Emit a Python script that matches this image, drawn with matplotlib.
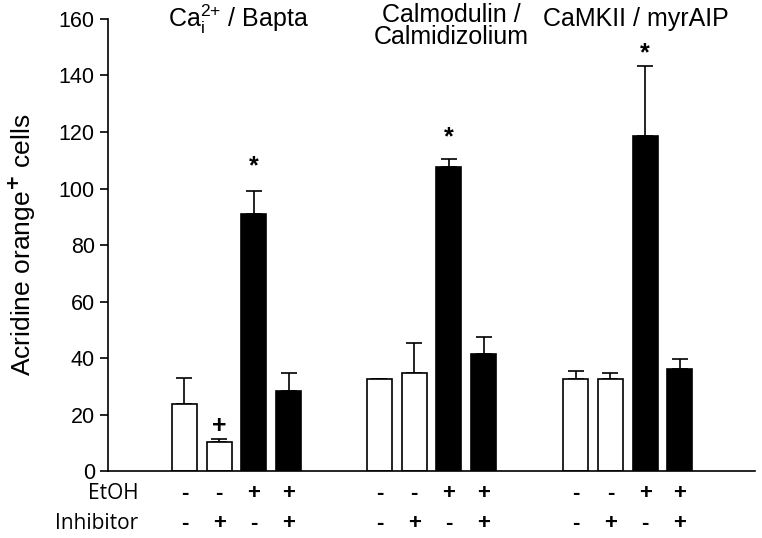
import numpy as np
import matplotlib.pyplot as plt

plt.rcParams['font.family'] = ['Liberation Sans', 'DejaVu Sans']

groups = ['Ca$_{\\mathregular{i}}^{\\mathregular{2{+}}}$ / Bapta', 'Calmodulin /\nCalmidizolium', 'CaMKII / myrAIP']
means = [[23.8, 10.3, 91.0, 28.4],
         [32.4, 34.7, 107.6, 41.5],
         [32.4, 32.4, 118.7, 36.0]]
errs = [[9.1, 0.9, 8.2, 6.2],
        [0.2, 10.5, 2.7, 6.0],
        [2.9, 2.3, 24.5, 3.8]]
etoh = ['-', '-', '+', '+']
inhib = ['-', '+', '-', '+']
fills = ['white', 'white', 'black', 'black']
# significance marks: (group, bar, symbol, y)
marks = [(0, 1, '+', 16), (0, 2, '*', 108), (1, 2, '*', 118), (2, 2, '*', 148)]

group_start = [0, 5.62, 11.27]

fig = plt.figure(figsize=(7.62, 5.38), dpi=100)
ax = fig.add_axes([0.1417, 0.1245, 0.8493, 0.8402])

for g in range(3):
    x = group_start[g] + np.arange(4)
    ax.bar(x, means[g], width=0.72, color=fills, edgecolor='black', linewidth=1.2, zorder=2)
    ax.errorbar(x, means[g], yerr=[np.zeros(4), errs[g]], fmt='none', ecolor='black',
                elinewidth=1.2, capsize=6, capthick=1.2, zorder=1)
    for i in range(4):
        ax.text(x[i], -0.05, etoh[i], transform=ax.get_xaxis_transform(), ha='center', va='center',
                fontsize=16, fontweight='bold')
        ax.text(x[i], -0.115, inhib[i], transform=ax.get_xaxis_transform(), ha='center', va='center',
                fontsize=16, fontweight='bold')

for g, b, s, y in marks:
    ax.text(group_start[g] + b, y, s, ha='center', va='center', fontsize=18, fontweight='bold')

ax.text(1.55, 160, groups[0], ha='center', va='center', fontsize=18)
ax.text(7.7, 157.5, groups[1], ha='center', va='center', fontsize=18, linespacing=0.9)
ax.text(13.0, 160, groups[2], ha='center', va='center', fontsize=18)

ax.text(-1.32, -0.05, 'EtOH', transform=ax.get_xaxis_transform(), ha='right', va='center',
        fontsize=15, family='Open Sans')
ax.text(-1.32, -0.115, 'Inhibitor', transform=ax.get_xaxis_transform(), ha='right', va='center',
        fontsize=15, family='Open Sans')

ax.set_xlim(-2.2, 16.44)
ax.set_ylim(0, 160)
ax.set_yticks(np.arange(0, 161, 20))
ax.set_xticks([])
ax.tick_params(axis='y', labelsize=15.5, direction='out', length=6, width=1.2)
ax.spines['top'].set_visible(False)
ax.spines['right'].set_visible(False)
ax.spines['left'].set_linewidth(1.2)
ax.spines['bottom'].set_linewidth(1.2)
ax.set_ylabel('Acridine orange$^{\\mathbf{+}}$ cells', fontsize=19)
ax.yaxis.set_label_coords(-0.108, 0.5)

fig.savefig('out.png', dpi=100)
